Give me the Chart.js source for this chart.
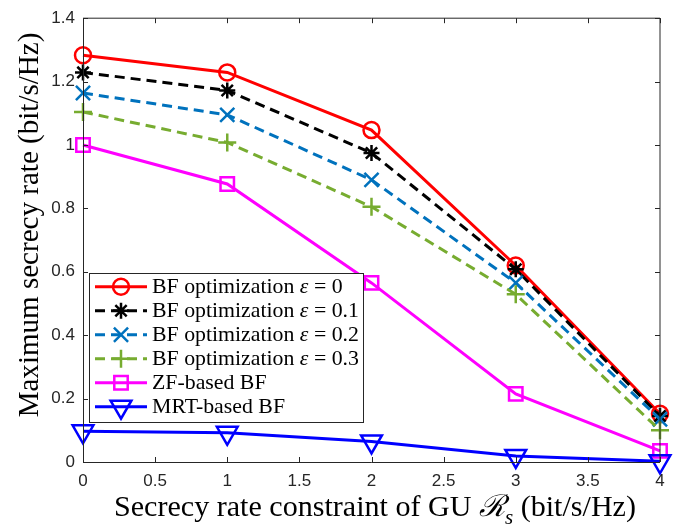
<!DOCTYPE html>
<html>
<head>
<meta charset="utf-8">
<script src="https://cdn.jsdelivr.net/npm/chart.js@4.4.1/dist/chart.umd.min.js"></script>
<style>html,body{margin:0;padding:0;background:#fff}</style>
</head>
<body>
<canvas id="graficaSecreto" width="679" height="525"></canvas>
<script>
// datos
const restricciones = [0, 1, 2, 3, 4];
const ticksX = [0, 0.5, 1, 1.5, 2, 2.5, 3, 3.5, 4];
const ticksY = [0, 0.2, 0.4, 0.6, 0.8, 1, 1.2, 1.4];

const bfEps0 = [1.283, 1.229, 1.047, 0.620, 0.152];
const bfEps01 = [1.229, 1.172, 0.975, 0.608, 0.145];
const bfEps02 = [1.164, 1.095, 0.890, 0.565, 0.135];
const bfEps03 = [1.104, 1.008, 0.805, 0.529, 0.100];
const zfBF = [1.000, 0.877, 0.565, 0.215, 0.035];
const mrtBF = [0.097, 0.092, 0.065, 0.019, 0.002];

const etiquetas = [
    'BF optimization ε = 0',
    'BF optimization ε = 0.1',
    'BF optimization ε = 0.2',
    'BF optimization ε = 0.3',
    'ZF-based BF',
    'MRT-based BF'
];
const series = [bfEps0, bfEps01, bfEps02, bfEps03, zfBF, mrtBF];

// estilos (tipo MATLAB)
const colores = ['#ff0000', '#000000', '#0072bd', '#77ac30', '#ff00ff', '#0000ff'];
const marcadores = ['circle', 'star', 'crossRot', 'cross', 'rect', 'triangle'];
const radios = [8, 8, 10, 9, 9.5, 12];
const giros = [0, 0, 0, 0, 0, 180];
const trazos = [[], [10, 6], [10, 6], [10, 6], [], []];

const ejeColor = '#262626';
const serif = '"Liberation Serif", "DejaVu Serif", serif';

const datasets = series.map((valores, i) => ({
    label: etiquetas[i],
    data: valores.map((v, k) => ({ x: restricciones[k], y: v })),
    borderColor: colores[i],
    borderWidth: 3,
    borderDash: trazos[i],
    pointStyle: marcadores[i],
    pointRadius: radios[i],
    pointRotation: giros[i],
    pointBorderColor: colores[i],
    pointBackgroundColor: 'rgba(0,0,0,0)',
    pointBorderWidth: 2.5,
    tension: 0,
    fill: false,
    clip: false,
    order: series.length - 1 - i
}));

// trozos de texto con distinta fuente
function partir(label) {
    const partes = label.split('ε');
    const trozos = [{ texto: partes[0], estilo: 'normal' }];
    if (partes.length > 1) {
        trozos.push({ texto: 'ε', estilo: 'italic' });
        trozos.push({ texto: partes[1], estilo: 'normal' });
    }
    return trozos;
}

function anchoTrozos(ctx, trozos, tam) {
    return trozos.reduce((s, t) => {
        ctx.font = t.estilo + ' ' + (tam * (t.escala || 1)) + 'px ' + serif;
        return s + ctx.measureText(t.texto).width;
    }, 0);
}

// dibuja desde x (izquierda) o centrado si centro = true
function textoMixto(ctx, trozos, x, y, tam, centro) {
    let cx = centro ? x - anchoTrozos(ctx, trozos, tam) / 2 : x;
    ctx.textBaseline = 'alphabetic';
    ctx.textAlign = 'left';
    trozos.forEach(t => {
        ctx.font = t.estilo + ' ' + (tam * (t.escala || 1)) + 'px ' + serif;
        ctx.fillText(t.texto, cx, y + (t.baja || 0) * tam);
        cx += ctx.measureText(t.texto).width;
    });
}

const extras = {
    id: 'extras',
    afterDraw(chart) {
        const ctx = chart.ctx;
        const a = chart.chartArea;
        const sx = chart.scales.x, sy = chart.scales.y;
        ctx.save();

        // caja de ejes: arriba y derecha (mas suaves)
        ctx.strokeStyle = ejeColor;
        ctx.lineWidth = 1;
        ctx.beginPath();
        ctx.moveTo(a.left, a.top);
        ctx.lineTo(a.right, a.top);
        ctx.lineTo(a.right, a.bottom);
        ticksX.forEach(v => {
            const p = Math.round(sx.getPixelForValue(v)) + 0.5;
            ctx.moveTo(p, a.top);
            ctx.lineTo(p, a.top + 5);
        });
        ticksY.forEach(v => {
            const p = Math.round(sy.getPixelForValue(v)) + 0.5;
            ctx.moveTo(a.right, p);
            ctx.lineTo(a.right - 5, p);
        });
        ctx.stroke();

        // ejes izquierdo e inferior y marcas hacia dentro
        ctx.beginPath();
        ctx.moveTo(a.left + 0.5, a.top);
        ctx.lineTo(a.left + 0.5, a.bottom + 0.5);
        ctx.lineTo(a.right, a.bottom + 0.5);
        ticksX.forEach(v => {
            const p = Math.round(sx.getPixelForValue(v)) + 0.5;
            ctx.moveTo(p, a.bottom);
            ctx.lineTo(p, a.bottom - 5);
        });
        ticksY.forEach(v => {
            const p = Math.round(sy.getPixelForValue(v)) + 0.5;
            ctx.moveTo(a.left, p);
            ctx.lineTo(a.left + 5, p);
        });
        ctx.stroke();

        // leyenda
        const lx = 89, ly = 273, lw = 274, lh = 149;
        ctx.fillStyle = '#fff';
        ctx.fillRect(lx, ly, lw, lh);
        ctx.strokeStyle = ejeColor;
        ctx.lineWidth = 1;
        ctx.strokeRect(lx + 0.5, ly + 0.5, lw, lh);

        // tamaño de letra para que la etiqueta mas larga mida ~207 px
        const tamLeyenda = 20 * 207 / anchoTrozos(ctx, partir(etiquetas[1]), 20);

        chart.data.datasets.forEach((ds, i) => {
            const y = ly + 13.7 + i * 24;
            ctx.strokeStyle = ds.borderColor;
            ctx.lineWidth = 3;
            ctx.setLineDash(ds.borderDash);
            ctx.beginPath();
            ctx.moveTo(95, y);
            ctx.lineTo(147, y);
            ctx.stroke();
            ctx.setLineDash([]);
            ctx.lineWidth = ds.pointBorderWidth;
            ctx.fillStyle = 'rgba(0,0,0,0)';
            Chart.helpers.drawPoint(ctx, {
                pointStyle: ds.pointStyle,
                rotation: ds.pointRotation,
                radius: ds.pointRadius,
                borderWidth: ds.pointBorderWidth
            }, 121, y);

            ctx.fillStyle = '#000';
            textoMixto(ctx, partir(ds.label), 152, y + 6, tamLeyenda, false);
        });

        // titulos de los ejes
        ctx.fillStyle = '#000';
        const tituloX = [
            { texto: 'Secrecy rate constraint of GU ', estilo: 'normal' },
            { texto: 'ℛ', estilo: 'italic' },
            { texto: 's', estilo: 'italic', escala: 0.7, baja: 0.25 },
            { texto: ' (bit/s/Hz)', estilo: 'normal' }
        ];
        const tamX = 22 * 522 / anchoTrozos(ctx, tituloX, 22);
        textoMixto(ctx, tituloX, 375, 516, tamX, true);

        const tituloY = [{ texto: 'Maximum secrecy rate (bit/s/Hz)', estilo: 'normal' }];
        const tamY = 22 * 385 / anchoTrozos(ctx, tituloY, 22);
        ctx.translate(38, 225);
        ctx.rotate(-Math.PI / 2);
        textoMixto(ctx, tituloY, 0, 0, tamY, true);

        ctx.restore();
    }
};

const fuenteTicks = { family: '"Liberation Sans", Arial, sans-serif', size: 17 };
const numero = (v) => String(Number(v.toFixed(1)));

new Chart(document.getElementById('graficaSecreto').getContext('2d'), {
    type: 'line',
    data: { datasets: datasets },
    options: {
        responsive: false,
        animation: false,
        layout: { padding: { left: 0, right: 19, top: 10, bottom: 0 } },
        plugins: {
            legend: { display: false },
            tooltip: { enabled: false }
        },
        scales: {
            x: {
                type: 'linear',
                min: 0,
                max: 4,
                afterBuildTicks: (s) => { s.ticks = ticksX.map(v => ({ value: v })); },
                afterFit: (s) => { s.height = 63; },
                grid: { display: false, drawTicks: false },
                border: { display: false },
                ticks: { color: ejeColor, font: fuenteTicks, padding: 9, maxRotation: 0, callback: numero }
            },
            y: {
                type: 'linear',
                min: 0,
                max: 1.4,
                afterBuildTicks: (s) => { s.ticks = ticksY.map(v => ({ value: v })); },
                afterFit: (s) => { s.width = 83; },
                grid: { display: false, drawTicks: false },
                border: { display: false },
                ticks: { color: ejeColor, font: fuenteTicks, padding: 8, callback: numero }
            }
        }
    },
    plugins: [extras]
});
</script>
</body>
</html>
